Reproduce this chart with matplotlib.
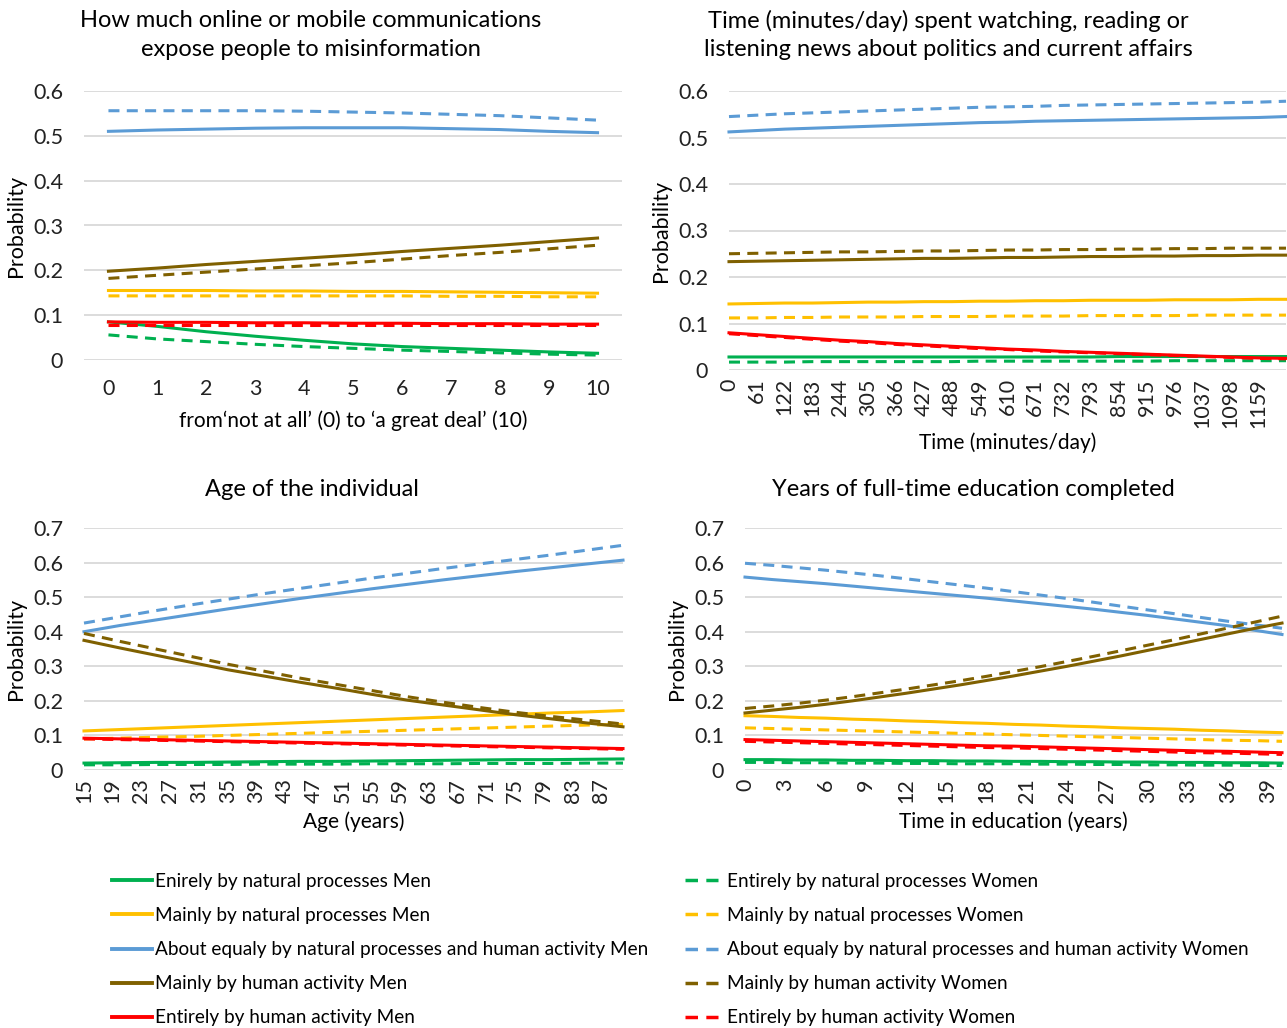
import numpy as np
import matplotlib.pyplot as plt
from matplotlib.lines import Line2D

plt.rcParams['font.family'] = ['Lato', 'DejaVu Sans']

# colours (Excel palette)
c_green = '#00B050'
c_yellow = '#FFC000'
c_blue = '#5B9BD5'
c_brown = '#7F6000'
c_red = '#FF0000'

men_labels = ['Enirely by natural processes Men',
              'Mainly by natural processes Men',
              'About equaly by natural processes and human activity Men',
              'Mainly by human activity Men',
              'Entirely by human activity Men']
women_labels = ['Entirely by natural processes Women',
                'Mainly by natual processes Women',
                'About equaly by natural processes and human activity Women',
                'Mainly by human activity Women',
                'Entirely by human activity Women']
colors = [c_green, c_yellow, c_blue, c_brown, c_red]

# panel 1: exposure to misinformation (0..10)
x_mis = np.arange(0, 11)
mis_men = [
    [0.085, 0.075, 0.063, 0.053, 0.044, 0.036, 0.030, 0.026, 0.022, 0.018, 0.015],
    [0.155, 0.155, 0.155, 0.154, 0.154, 0.153, 0.153, 0.152, 0.151, 0.150, 0.149],
    [0.510, 0.513, 0.515, 0.517, 0.518, 0.518, 0.518, 0.516, 0.514, 0.510, 0.507],
    [0.198, 0.205, 0.213, 0.220, 0.227, 0.234, 0.242, 0.249, 0.256, 0.264, 0.272],
    [0.085, 0.084, 0.084, 0.083, 0.083, 0.082, 0.082, 0.081, 0.081, 0.080, 0.080],
]
mis_women = [
    [0.056, 0.047, 0.041, 0.035, 0.030, 0.026, 0.022, 0.019, 0.016, 0.013, 0.011],
    [0.143, 0.143, 0.143, 0.143, 0.143, 0.143, 0.143, 0.142, 0.142, 0.141, 0.141],
    [0.556, 0.556, 0.556, 0.556, 0.555, 0.553, 0.551, 0.548, 0.545, 0.540, 0.535],
    [0.182, 0.189, 0.196, 0.203, 0.210, 0.217, 0.225, 0.233, 0.240, 0.248, 0.256],
    [0.078, 0.078, 0.078, 0.078, 0.078, 0.078, 0.078, 0.078, 0.078, 0.078, 0.078],
]

# panel 2: news time (minutes/day)
x_news = np.arange(0, 1221, 61)
news_men = [
    [0.028, 0.028, 0.028, 0.028, 0.028, 0.028, 0.028, 0.028, 0.028, 0.028, 0.028,
     0.028, 0.028, 0.028, 0.029, 0.029, 0.029, 0.029, 0.029, 0.029, 0.029],
    [0.142, 0.143, 0.144, 0.144, 0.145, 0.146, 0.146, 0.147, 0.147, 0.148, 0.148,
     0.149, 0.149, 0.150, 0.150, 0.150, 0.151, 0.151, 0.151, 0.152, 0.152],
    [0.512, 0.515, 0.518, 0.520, 0.522, 0.524, 0.526, 0.528, 0.530, 0.532, 0.533,
     0.535, 0.536, 0.537, 0.538, 0.539, 0.540, 0.541, 0.542, 0.543, 0.545],
    [0.233, 0.234, 0.235, 0.236, 0.237, 0.238, 0.239, 0.240, 0.240, 0.241, 0.242,
     0.242, 0.243, 0.244, 0.244, 0.245, 0.245, 0.246, 0.246, 0.247, 0.247],
    [0.080, 0.076, 0.072, 0.068, 0.064, 0.061, 0.057, 0.054, 0.051, 0.048, 0.045,
     0.043, 0.040, 0.038, 0.036, 0.034, 0.032, 0.030, 0.028, 0.026, 0.025],
]
news_women = [
    [0.017, 0.017, 0.017, 0.018, 0.018, 0.018, 0.018, 0.018, 0.018, 0.019, 0.019,
     0.019, 0.019, 0.019, 0.019, 0.019, 0.020, 0.020, 0.020, 0.020, 0.020],
    [0.112, 0.112, 0.113, 0.113, 0.114, 0.114, 0.114, 0.115, 0.115, 0.115, 0.116,
     0.116, 0.116, 0.117, 0.117, 0.117, 0.117, 0.118, 0.118, 0.118, 0.118],
    [0.545, 0.548, 0.551, 0.553, 0.555, 0.557, 0.559, 0.561, 0.563, 0.565, 0.566,
     0.567, 0.569, 0.570, 0.571, 0.572, 0.573, 0.574, 0.575, 0.576, 0.578],
    [0.250, 0.251, 0.252, 0.253, 0.254, 0.254, 0.255, 0.256, 0.256, 0.257, 0.258,
     0.258, 0.259, 0.259, 0.260, 0.260, 0.261, 0.261, 0.262, 0.262, 0.262],
    [0.078, 0.074, 0.070, 0.066, 0.062, 0.059, 0.055, 0.052, 0.049, 0.046, 0.044,
     0.041, 0.039, 0.037, 0.035, 0.033, 0.031, 0.029, 0.027, 0.025, 0.024],
]

# panel 3: age (years)
x_age = np.arange(15, 91, 5)
age_men = [
    [0.020, 0.021, 0.022, 0.022, 0.023, 0.024, 0.025, 0.025, 0.026, 0.027, 0.028,
     0.029, 0.030, 0.030, 0.031, 0.032],
    [0.113, 0.117, 0.121, 0.125, 0.129, 0.133, 0.137, 0.141, 0.145, 0.149, 0.153,
     0.157, 0.161, 0.165, 0.168, 0.172],
    [0.400, 0.418, 0.434, 0.450, 0.466, 0.481, 0.496, 0.510, 0.524, 0.537, 0.550,
     0.562, 0.574, 0.585, 0.596, 0.607],
    [0.375, 0.353, 0.332, 0.311, 0.290, 0.272, 0.254, 0.237, 0.219, 0.202, 0.188,
     0.174, 0.160, 0.148, 0.136, 0.125],
    [0.092, 0.090, 0.088, 0.086, 0.084, 0.082, 0.080, 0.078, 0.076, 0.074, 0.072,
     0.070, 0.068, 0.066, 0.064, 0.062],
]
age_women = [
    [0.015, 0.015, 0.016, 0.016, 0.016, 0.017, 0.017, 0.017, 0.018, 0.018, 0.018,
     0.019, 0.019, 0.019, 0.020, 0.020],
    [0.090, 0.092, 0.095, 0.097, 0.100, 0.103, 0.106, 0.109, 0.112, 0.115, 0.118,
     0.121, 0.124, 0.127, 0.130, 0.132],
    [0.425, 0.443, 0.461, 0.478, 0.494, 0.510, 0.525, 0.540, 0.555, 0.569, 0.583,
     0.596, 0.609, 0.622, 0.636, 0.650],
    [0.395, 0.372, 0.350, 0.328, 0.306, 0.286, 0.266, 0.248, 0.230, 0.212, 0.196,
     0.181, 0.167, 0.155, 0.144, 0.133],
    [0.090, 0.088, 0.086, 0.084, 0.082, 0.080, 0.078, 0.076, 0.074, 0.072, 0.070,
     0.068, 0.066, 0.064, 0.062, 0.060],
]

# panel 4: years of education
x_edu = np.arange(0, 41, 2)
edu_men = [
    [0.030, 0.030, 0.029, 0.029, 0.028, 0.028, 0.027, 0.027, 0.026, 0.026, 0.025,
     0.025, 0.024, 0.024, 0.023, 0.023, 0.022, 0.022, 0.021, 0.021, 0.020],
    [0.157, 0.155, 0.152, 0.150, 0.147, 0.145, 0.142, 0.140, 0.137, 0.135, 0.132,
     0.130, 0.127, 0.125, 0.122, 0.120, 0.118, 0.115, 0.113, 0.110, 0.108],
    [0.558, 0.551, 0.545, 0.539, 0.532, 0.525, 0.518, 0.511, 0.504, 0.497, 0.489,
     0.481, 0.473, 0.465, 0.456, 0.447, 0.437, 0.427, 0.417, 0.404, 0.392],
    [0.165, 0.173, 0.181, 0.190, 0.200, 0.211, 0.222, 0.234, 0.246, 0.259, 0.272,
     0.286, 0.300, 0.315, 0.330, 0.346, 0.362, 0.378, 0.394, 0.410, 0.425],
    [0.088, 0.086, 0.084, 0.082, 0.080, 0.078, 0.076, 0.074, 0.072, 0.070, 0.069,
     0.067, 0.065, 0.063, 0.061, 0.059, 0.057, 0.055, 0.054, 0.052, 0.050],
]
edu_women = [
    [0.022, 0.022, 0.021, 0.021, 0.020, 0.020, 0.019, 0.019, 0.018, 0.018, 0.018,
     0.017, 0.017, 0.016, 0.016, 0.015, 0.015, 0.014, 0.014, 0.013, 0.013],
    [0.122, 0.120, 0.118, 0.116, 0.114, 0.112, 0.110, 0.108, 0.106, 0.104, 0.102,
     0.100, 0.098, 0.096, 0.094, 0.092, 0.090, 0.088, 0.086, 0.085, 0.083],
    [0.598, 0.592, 0.585, 0.578, 0.570, 0.562, 0.553, 0.544, 0.535, 0.526, 0.516,
     0.506, 0.496, 0.485, 0.474, 0.463, 0.452, 0.441, 0.430, 0.420, 0.410],
    [0.178, 0.185, 0.193, 0.202, 0.212, 0.223, 0.234, 0.246, 0.258, 0.271, 0.285,
     0.299, 0.314, 0.329, 0.345, 0.361, 0.377, 0.394, 0.411, 0.428, 0.445],
    [0.083, 0.081, 0.079, 0.077, 0.075, 0.073, 0.071, 0.069, 0.067, 0.065, 0.064,
     0.062, 0.060, 0.058, 0.056, 0.054, 0.052, 0.050, 0.049, 0.047, 0.045],
]

ticks_mis = list(range(0, 11))
ticks_news = list(range(0, 1160, 61))
ticks_age = list(range(15, 88, 4))
ticks_edu = list(range(0, 40, 3))

W, H = 1287, 1028
fig = plt.figure(figsize=(W / 100, H / 100), dpi=100)
LW = 2.2
DASH = (0, (3.6, 2.4))


def px_axes(x0, x1, y_top, y_bot):
    return fig.add_axes([x0 / W, 1 - y_bot / H, (x1 - x0) / W, (y_bot - y_top) / H])


def style(ax, ymax, xpad):
    ax.set_ylim(0, ymax)
    ax.set_yticks(np.arange(0, ymax + 0.001, 0.1))
    ax.set_yticklabels(['0'] + ['%.1f' % v for v in np.arange(0.1, ymax + 0.001, 0.1)])
    ax.grid(axis='y', color='#D9D9D9', lw=1.3)
    ax.set_axisbelow(True)
    for s in ax.spines.values():
        s.set_visible(False)
    ax.tick_params(length=0, labelsize=15.5, colors='#222222')
    ax.tick_params(axis='y', pad=15)
    ax.tick_params(axis='x', pad=xpad)
    ax.set_ylabel('Probability', fontsize=15.5, labelpad=5)


def draw(ax, x, men, women):
    for ym, yw, c in zip(men, women, colors):
        ax.plot(x, ym, color=c, lw=LW, clip_on=False)
        ax.plot(x, yw, color=c, lw=LW, ls=DASH, clip_on=False)


ax1 = px_axes(84, 622, 91, 360)
draw(ax1, x_mis, mis_men, mis_women)
style(ax1, 0.6, 14)
ax1.set_xlim(-0.5, 10.5)
ax1.set_xticks(ticks_mis)
ax1.set_xlabel("from\u2018not at all\u2019 (0) to \u2018a great deal\u2019 (10)", fontsize=15, labelpad=8)

ax2 = px_axes(729, 1286, 91, 370)
draw(ax2, x_news, news_men, news_women)
style(ax2, 0.6, 6)
ax2.set_xlim(0, 1220)
ax2.set_xticks(ticks_news)
ax2.set_xticklabels([str(t) for t in ticks_news], rotation=90)
ax2.set_xlabel('Time (minutes/day)', fontsize=15, labelpad=3)

ax3 = px_axes(84, 623, 528, 770)
draw(ax3, x_age, age_men, age_women)
style(ax3, 0.7, 6)
ax3.set_xlim(15, 90)
ax3.set_xticks(ticks_age)
ax3.set_xticklabels([str(t) for t in ticks_age], rotation=90)
ax3.set_xlabel('Age (years)', fontsize=15, labelpad=6)

ax4 = px_axes(745, 1282, 528, 770)
draw(ax4, x_edu, edu_men, edu_women)
style(ax4, 0.7, 6)
ax4.set_xlim(0, 40)
ax4.set_xticks(ticks_edu)
ax4.set_xticklabels([str(t) for t in ticks_edu], rotation=90)
ax4.set_xlabel('Time in education (years)', fontsize=15, labelpad=6)

# titles
fig.text(311 / W, 1 - 35 / H, 'How much online or mobile communications\nexpose people to misinformation',
         ha='center', va='center', fontsize=17, linespacing=1.45)
fig.text(948 / W, 1 - 35 / H, 'Time (minutes/day) spent watching, reading or\nlistening news about politics and current affairs',
         ha='center', va='center', fontsize=17, linespacing=1.45)
fig.text(312 / W, 1 - 489 / H, 'Age of the individual', ha='center', va='center', fontsize=17)
fig.text(973 / W, 1 - 489 / H, 'Years of full-time education completed', ha='center', va='center', fontsize=17)

# legend in two columns
h_men = [Line2D([], [], color=c, lw=LW + 0.6) for c in colors]
h_women = [Line2D([], [], color=c, lw=LW + 0.3, ls=DASH) for c in colors]
leg_kw = dict(frameon=False, fontsize=13.7, labelspacing=0.9,
              borderaxespad=0, borderpad=0, loc='upper left')
fig.legend(h_men, men_labels, bbox_to_anchor=(112 / W, 1 - 873 / H),
           handlelength=2.1, handletextpad=0.15, **leg_kw)
fig.legend(h_women, women_labels, bbox_to_anchor=(685 / W, 1 - 873 / H),
           handlelength=1.75, handletextpad=0.45, **leg_kw)

fig.savefig('out.png', dpi=100)
